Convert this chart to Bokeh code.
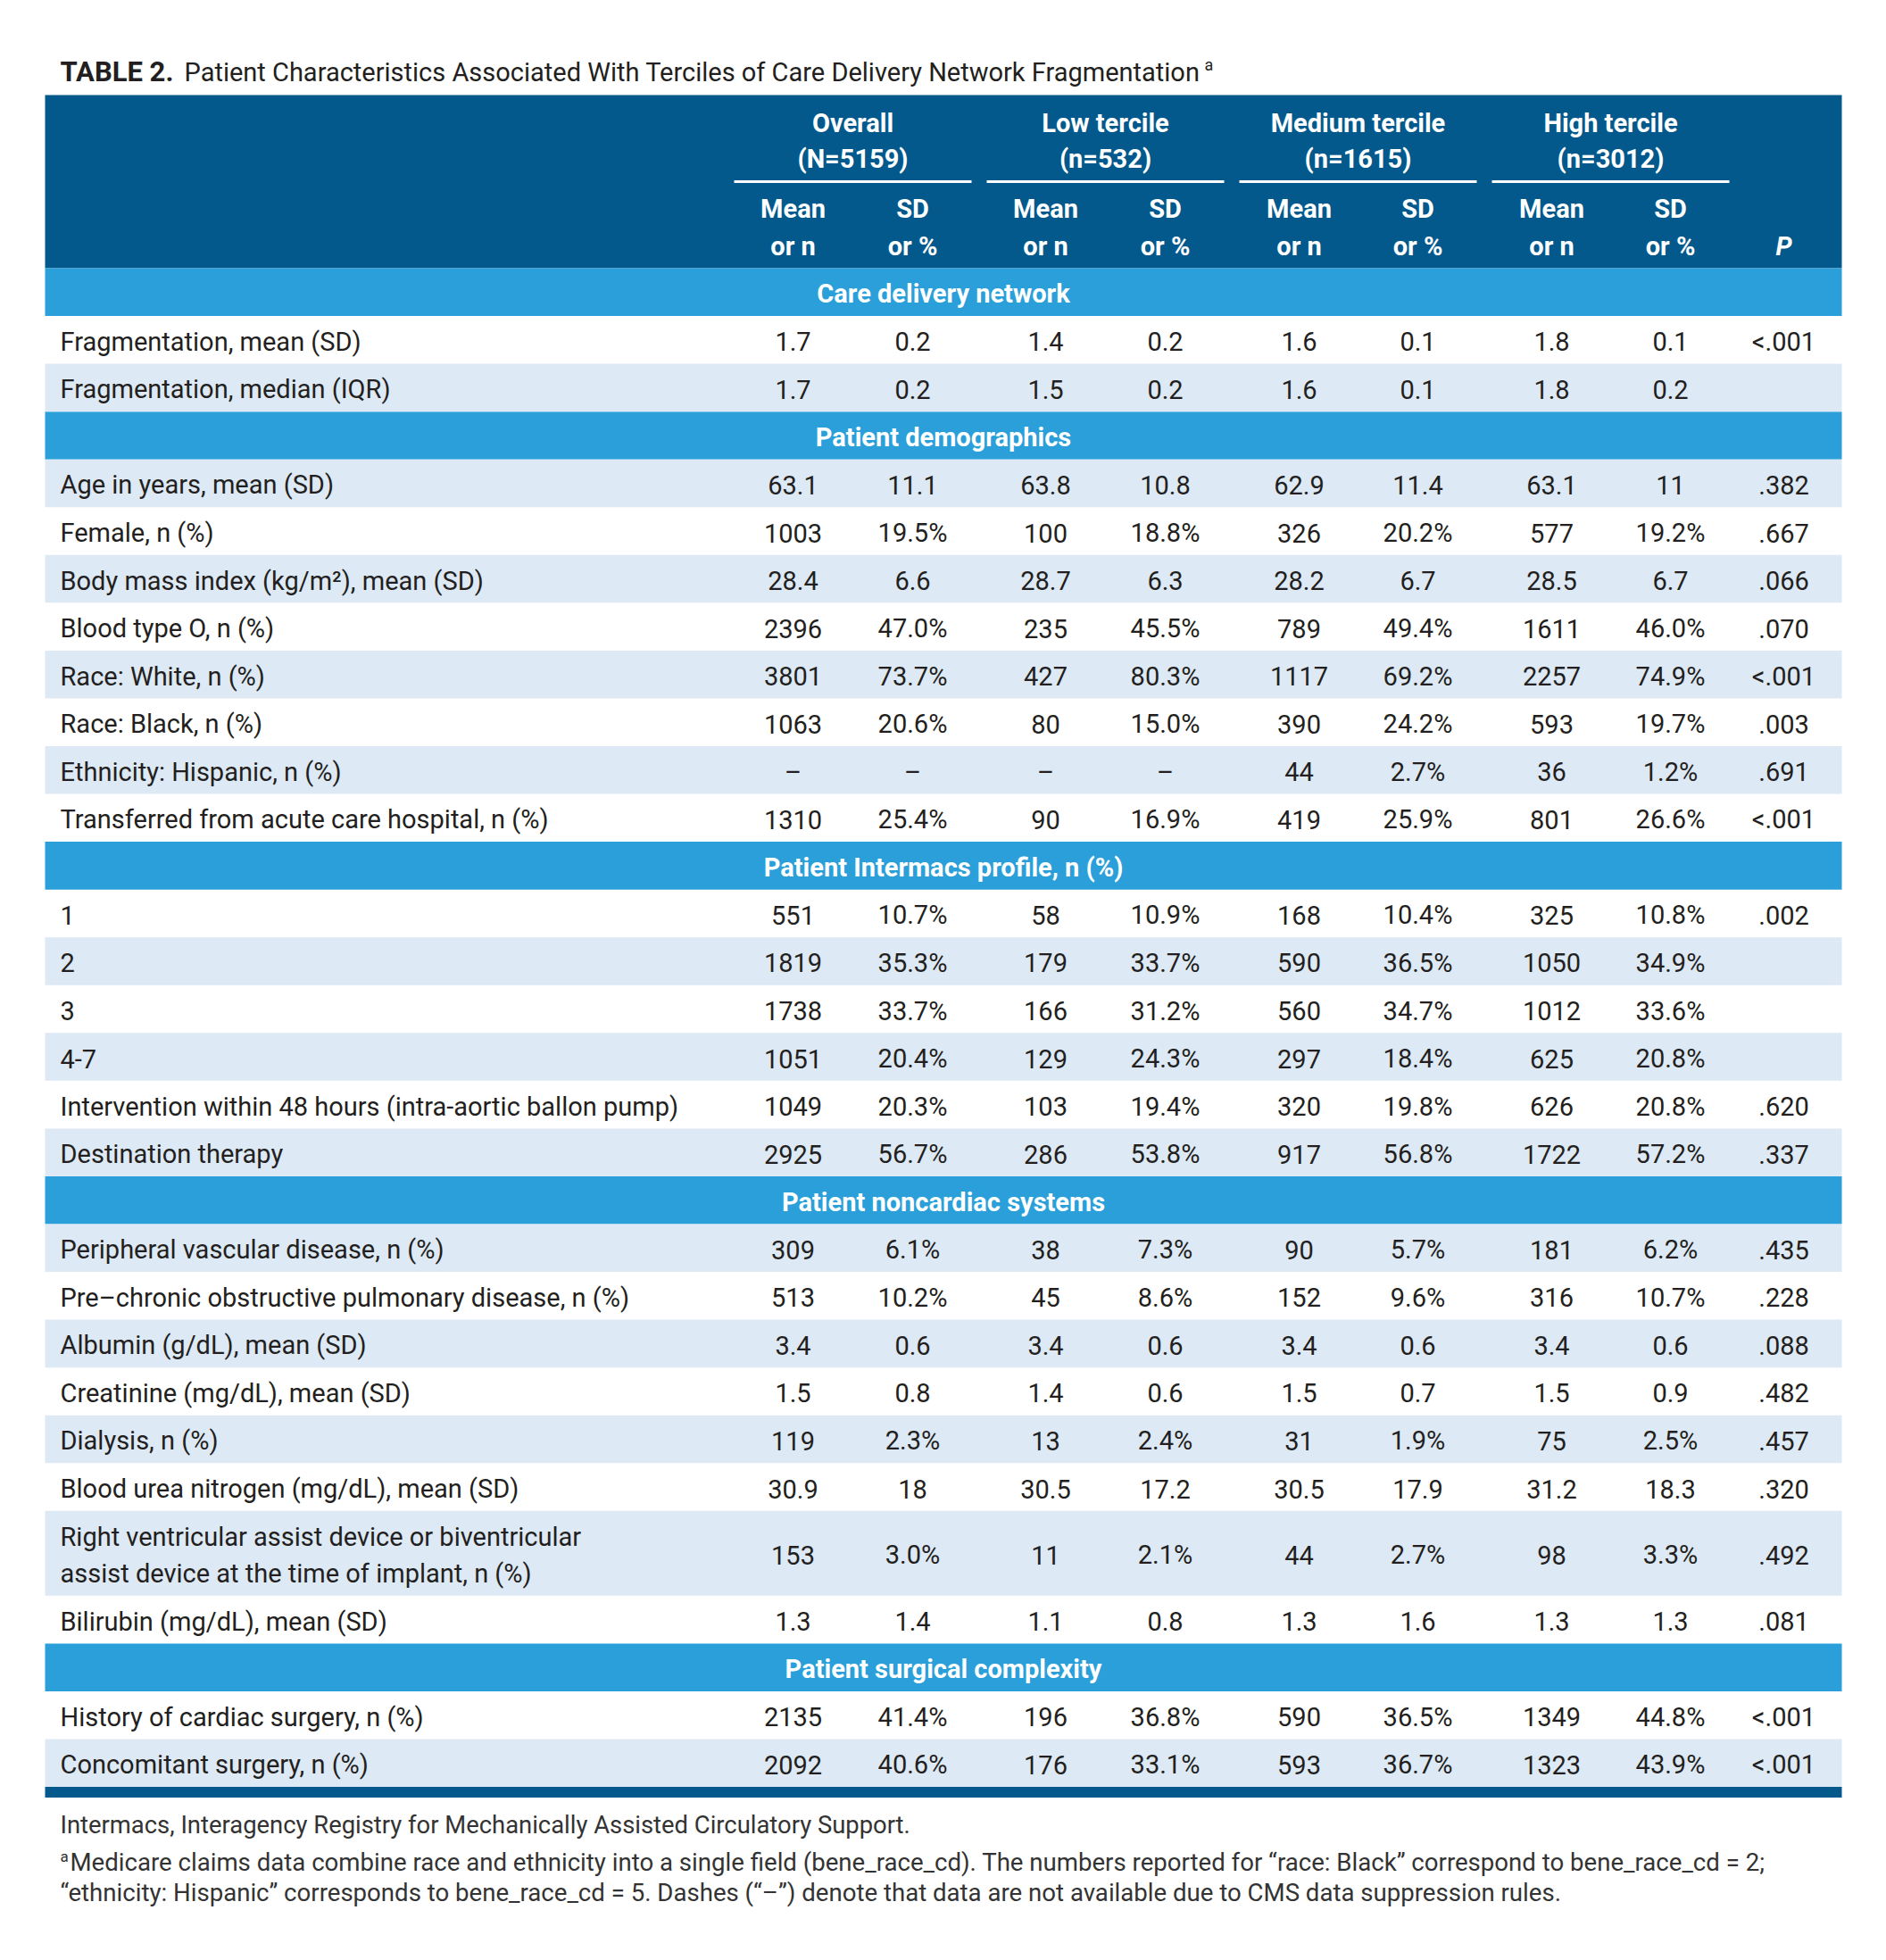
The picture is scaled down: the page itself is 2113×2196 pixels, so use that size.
from bokeh.plotting import figure
from bokeh.models import ColumnDataSource, Range1d
from bokeh.core.properties import value
from bokeh.embed import file_html
from bokeh.resources import INLINE

# ---------------- data ----------------
title_bold = "TABLE 2."
title_rest = "Patient Characteristics Associated With Terciles of Care Delivery Network Fragmentation"
title_sup = "a"

groups = ["Overall", "Low tercile", "Medium tercile", "High tercile"]
group_ns = ["(N=5159)", "(n=532)", "(n=1615)", "(n=3012)"]
sub_top = ["Mean", "SD"]
sub_bottom = ["or n", "or %"]
p_header = "P"

sections = ["Care delivery network", "Patient demographics",
            "Patient Intermacs profile, n (%)", "Patient noncardiac systems",
            "Patient surgical complexity"]
section_sizes = [2, 8, 6, 8, 2]

row_labels = [
    "Fragmentation, mean (SD)",
    "Fragmentation, median (IQR)",
    "Age in years, mean (SD)",
    "Female, n (%)",
    "Body mass index (kg/m\u00b2), mean (SD)",
    "Blood type O, n (%)",
    "Race: White, n (%)",
    "Race: Black, n (%)",
    "Ethnicity: Hispanic, n (%)",
    "Transferred from acute care hospital, n (%)",
    "1",
    "2",
    "3",
    "4-7",
    "Intervention within 48 hours (intra-aortic ballon pump)",
    "Destination therapy",
    "Peripheral vascular disease, n (%)",
    "Pre\u2013chronic obstructive pulmonary disease, n (%)",
    "Albumin (g/dL), mean (SD)",
    "Creatinine (mg/dL), mean (SD)",
    "Dialysis, n (%)",
    "Blood urea nitrogen (mg/dL), mean (SD)",
    "Right ventricular assist device or biventricular\nassist device at the time of implant, n (%)",
    "Bilirubin (mg/dL), mean (SD)",
    "History of cardiac surgery, n (%)",
    "Concomitant surgery, n (%)",
]

D = "\u2013"
overall_mean = ["1.7", "1.7", "63.1", "1003", "28.4", "2396", "3801", "1063", D, "1310",
                "551", "1819", "1738", "1051", "1049", "2925",
                "309", "513", "3.4", "1.5", "119", "30.9", "153", "1.3", "2135", "2092"]
overall_sd = ["0.2", "0.2", "11.1", "19.5%", "6.6", "47.0%", "73.7%", "20.6%", D, "25.4%",
              "10.7%", "35.3%", "33.7%", "20.4%", "20.3%", "56.7%",
              "6.1%", "10.2%", "0.6", "0.8", "2.3%", "18", "3.0%", "1.4", "41.4%", "40.6%"]
low_mean = ["1.4", "1.5", "63.8", "100", "28.7", "235", "427", "80", D, "90",
            "58", "179", "166", "129", "103", "286",
            "38", "45", "3.4", "1.4", "13", "30.5", "11", "1.1", "196", "176"]
low_sd = ["0.2", "0.2", "10.8", "18.8%", "6.3", "45.5%", "80.3%", "15.0%", D, "16.9%",
          "10.9%", "33.7%", "31.2%", "24.3%", "19.4%", "53.8%",
          "7.3%", "8.6%", "0.6", "0.6", "2.4%", "17.2", "2.1%", "0.8", "36.8%", "33.1%"]
med_mean = ["1.6", "1.6", "62.9", "326", "28.2", "789", "1117", "390", "44", "419",
            "168", "590", "560", "297", "320", "917",
            "90", "152", "3.4", "1.5", "31", "30.5", "44", "1.3", "590", "593"]
med_sd = ["0.1", "0.1", "11.4", "20.2%", "6.7", "49.4%", "69.2%", "24.2%", "2.7%", "25.9%",
          "10.4%", "36.5%", "34.7%", "18.4%", "19.8%", "56.8%",
          "5.7%", "9.6%", "0.6", "0.7", "1.9%", "17.9", "2.7%", "1.6", "36.5%", "36.7%"]
high_mean = ["1.8", "1.8", "63.1", "577", "28.5", "1611", "2257", "593", "36", "801",
             "325", "1050", "1012", "625", "626", "1722",
             "181", "316", "3.4", "1.5", "75", "31.2", "98", "1.3", "1349", "1323"]
high_sd = ["0.1", "0.2", "11", "19.2%", "6.7", "46.0%", "74.9%", "19.7%", "1.2%", "26.6%",
           "10.8%", "34.9%", "33.6%", "20.8%", "20.8%", "57.2%",
           "6.2%", "10.7%", "0.6", "0.9", "2.5%", "18.3", "3.3%", "1.3", "44.8%", "43.9%"]
p_values = ["<.001", "", ".382", ".667", ".066", ".070", "<.001", ".003", ".691", "<.001",
            ".002", "", "", "", ".620", ".337",
            ".435", ".228", ".088", ".482", ".457", ".320", ".492", ".081", "<.001", "<.001"]

footnote_1 = "Intermacs, Interagency Registry for Mechanically Assisted Circulatory Support."
footnote_sup = "a"
footnote_2 = ("Medicare claims data combine race and ethnicity into a single field (bene_race_cd). "
              "The numbers reported for \u201crace: Black\u201d correspond to bene_race_cd = 2;")
footnote_3 = ("\u201cethnicity: Hispanic\u201d corresponds to bene_race_cd = 5. Dashes (\u201c\u2013\u201d) "
              "denote that data are not available due to CMS data suppression rules.")

# ---------------- style / layout ----------------
W, H = 2097, 2180
DARK = "#03598c"
BAND = "#2a9fd9"
STRIPE = "#dde9f5"
TXT = "#231f20"
FONT = value("Roboto")
FS = "29px"

X0, X1 = 50, 2063
col_x = [888, 1022, 1171, 1305, 1455, 1588, 1738, 1871, 1998]
group_spans = [(822, 1088), (1105, 1371), (1388, 1654), (1671, 1937)]
LABEL_X = 67
RH = 53.55
TY = 2  # small downward nudge of body text within its row

p = figure(width=W, height=H, output_backend="svg", toolbar_location=None,
           x_range=Range1d(0, W), y_range=Range1d(H, 0), min_border=0)
p.axis.visible = False
p.grid.visible = False
p.outline_line_color = None
p.background_fill_color = "white"
p.border_fill_color = "white"

def txt(xs, ys, texts, size=FS, color=TXT, align="left", style="normal", baseline="middle"):
    src = ColumnDataSource(dict(x=xs, y=ys, t=texts))
    p.text(x="x", y="y", text="t", source=src, text_font=FONT, text_font_size=size,
           text_color=color, text_align=align, text_baseline=baseline, text_font_style=style)

# title
txt([LABEL_X], [80], [title_bold], size="31px", style="bold")
txt([206], [80], [title_rest], size="29px")
txt([1349], [72], [title_sup], size="18px")

# header block
HT, HB = 106, 300
p.quad(left=[X0], right=[X1], top=[HT], bottom=[HB], fill_color=DARK, line_color=None)
gx = [(a + b) / 2 for a, b in group_spans]
txt(gx, [137] * 4, groups, color="white", align="center", style="bold")
txt(gx, [177] * 4, group_ns, color="white", align="center", style="bold")
p.segment(x0=[a for a, b in group_spans], x1=[b for a, b in group_spans],
          y0=[203] * 4, y1=[203] * 4, line_color="white", line_width=3)
txt(col_x[:8], [233] * 8, sub_top * 4, color="white", align="center", style="bold")
txt(col_x[:8], [275] * 8, sub_bottom * 4, color="white", align="center", style="bold")
txt([col_x[8]], [275], [p_header], color="white", align="center", style="bold italic")

# body rows
columns = [overall_mean, overall_sd, low_mean, low_sd, med_mean, med_sd, high_mean, high_sd, p_values]
y = HB
gi = 0
ri = 0
band_t, band_b = [], []
st_t, st_b = [], []
sec_x, sec_y, sec_t = [], [], []
lab_x, lab_y, lab_t = [], [], []
val_x, val_y, val_t = [], [], []
for s, n in zip(sections, section_sizes):
    band_t.append(y); band_b.append(y + RH)
    sec_x.append((X0 + X1) / 2); sec_y.append(y + RH / 2 + TY); sec_t.append(s)
    y += RH
    gi += 1
    for _ in range(n):
        lines = row_labels[ri].split("\n")
        h = RH * (1 + 0.775 * (len(lines) - 1))
        if gi % 2 == 0:
            st_t.append(y); st_b.append(y + h)
        cy = y + h / 2 + TY
        for k, ln in enumerate(lines):
            lab_x.append(LABEL_X)
            lab_y.append(cy + (k - (len(lines) - 1) / 2) * 41)
            lab_t.append(ln)
        for cx, col in zip(col_x, columns):
            if col[ri]:
                val_x.append(cx); val_y.append(cy); val_t.append(col[ri])
        y += h
        gi += 1
        ri += 1

p.quad(left=[X0] * len(band_t), right=[X1] * len(band_t), top=band_t, bottom=band_b,
       fill_color=BAND, line_color=None)
p.quad(left=[X0] * len(st_t), right=[X1] * len(st_t), top=st_t, bottom=st_b,
       fill_color=STRIPE, line_color=None)
p.quad(left=[X0], right=[X1], top=[y], bottom=[y + 12], fill_color=DARK, line_color=None)

txt(sec_x, sec_y, sec_t, color="white", align="center", style="bold")
txt(lab_x, lab_y, lab_t)
txt(val_x, val_y, val_t, align="center")

# footnotes
FC = "#333333"
txt([LABEL_X], [2044], [footnote_1], size="27.4px", color=FC)
txt([LABEL_X], [2079], [footnote_sup], size="17px", color=FC)
txt([LABEL_X + 11], [2086], [footnote_2], size="27.6px", color=FC)
txt([LABEL_X], [2120], [footnote_3], size="27.6px", color=FC)

open("out.html", "w").write(file_html(p, INLINE))
